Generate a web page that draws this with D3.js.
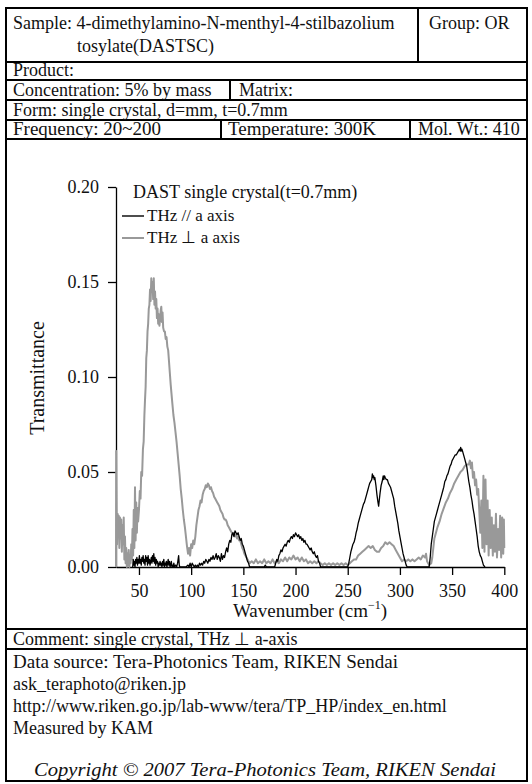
<!DOCTYPE html>
<html><head><meta charset="utf-8">
<script src="https://cdn.jsdelivr.net/npm/d3@7"></script>
<style>
html,body{margin:0;padding:0;background:#fff;}
svg{display:block;}
text{font-family:"Liberation Serif","Times New Roman",serif;fill:#111;}
</style></head><body>
<svg id="chart" width="532" height="784" font-family="Liberation Serif, serif"></svg>
<script>
// ---------- data ----------
const xDomain = [28, 400];
const yDomain = [0, 0.2];
const xTicks = [50, 100, 150, 200, 250, 300, 350, 400];
const yTicks = [0, 0.05, 0.10, 0.15, 0.20];
const chartTitle = "DAST single crystal(t=0.7mm)";
const seriesNames = ["THz // a axis", "THz \u22A5 a axis"];
const xLabel = "Wavenumber (cm";
const yLabel = "Transmittance";

// THz // a axis (black)
const parallelData = [
[44.0,0.000],[44.5,0.004],[45.0,0.001],[45.6,0.003],[46.2,0.000],[46.8,0.004],[47.4,0.002],[48.0,0.005],[48.6,0.001],[49.2,0.004],[49.8,0.002],[50.4,0.006],[51.0,0.002],[51.6,0.004],[52.2,0.001],[52.8,0.005],[53.4,0.003],[54.0,0.006],[54.6,0.002],[55.2,0.004],[55.8,0.001],[56.4,0.006],[57.0,0.003],[57.6,0.005],[58.2,0.001],[58.8,0.006],[59.4,0.002],[60.0,0.004],[60.6,0.001],[61.2,0.003],[61.8,0.005],[62.4,0.002],[63.0,0.006],[63.6,0.003],[64.2,0.007],[64.8,0.002],[65.4,0.005],[66.0,0.001],[66.6,0.004],[67.2,0.002],[67.8,0.003],[68.4,0.000],[69.0,0.002],[69.6,0.001],[70.2,0.003],[70.8,0.001],[71.4,0.002],[72.0,0.000],[72.6,0.003],[73.2,0.001],[73.8,0.004],[74.4,0.000],[75.0,0.002],[75.6,0.001],[76.2,0.003],[76.8,0.000],[77.4,0.002],[78.0,0.004],[78.6,0.001],[79.2,0.003],[79.8,0.000],[80.4,0.001],[81.0,0.003],[81.6,0.000],[82.2,0.001],[82.8,0.000],[83.4,0.002],[84.0,0.000],[85,0.001],[86,0.000],[87,0.002],[88,0.006],[88.6,0.001],[89.2,0.000],[95,0.000],[97,0.001],[98,0.000],[99,0.002],[100,0.000],[101,0.002],[102,0.001],[103,0.000],[104,0.001],[105,0.000],[106,0.001],[107,0.000],[108,0.002],[109,0.001],[110,0.002],[111,0.001],[112,0.003],[113,0.002],[114,0.004],[115,0.003],[116,0.002],[117,0.004],[118,0.003],[119,0.005],[120,0.004],[121,0.006],[122,0.004],[123,0.005],[124,0.007],[125,0.004],[126,0.006],[127,0.005],[128,0.003],[129,0.007],[130,0.004],[131,0.006],[132,0.005],[133,0.008],[134,0.010],[135,0.008],[136,0.012],[137,0.014],[138,0.013],[139,0.017],[140,0.018],[141,0.016],[142,0.019],[143,0.018],[144,0.017],[145,0.018],[146,0.016],[147,0.014],[148,0.015],[149,0.012],[150,0.011],[151,0.009],[152,0.007],[153,0.005],[154,0.003],[155,0.002],[156,0.000],[170,0.000],[171,0.001],[172,0.000],[180,0.000],[181,0.002],[182,0.004],[183,0.003],[184,0.006],[185,0.007],[186,0.009],[187,0.008],[188,0.010],[189,0.011],[190,0.012],[191,0.011],[192,0.013],[193,0.014],[194,0.013],[195,0.015],[196,0.016],[197,0.015],[198,0.017],[199,0.016],[200,0.018],[201,0.017],[202,0.016],[203,0.017],[204,0.015],[205,0.016],[206,0.014],[207,0.015],[208,0.013],[209,0.014],[210,0.012],[211,0.012],[212,0.011],[213,0.010],[214,0.009],[215,0.010],[216,0.008],[217,0.007],[218,0.008],[219,0.006],[220,0.005],[221,0.006],[222,0.003],[223,0.002],[224,0.000],[250,0.000],[251,0.002],[252,0.005],[253,0.008],[254,0.010],[255,0.012],[256,0.013],[257,0.015],[258,0.018],[259,0.020],[260,0.023],[261,0.025],[262,0.027],[263,0.029],[264,0.031],[265,0.033],[266,0.034],[267,0.036],[268,0.038],[269,0.040],[270,0.042],[271,0.044],[272,0.045],[273,0.046],[273.6,0.049],[274.2,0.047],[274.8,0.048],[275.4,0.046],[276,0.047],[277,0.043],[278,0.038],[279,0.034],[279.6,0.032],[280.2,0.035],[281,0.039],[282,0.043],[283,0.045],[284,0.048],[284.6,0.046],[285.2,0.048],[286,0.047],[287,0.046],[288,0.046],[289,0.044],[290,0.043],[291,0.042],[292,0.040],[293,0.038],[294,0.036],[295,0.032],[296,0.029],[297,0.026],[298,0.023],[299,0.019],[300,0.016],[301,0.013],[302,0.010],[303,0.007],[304,0.005],[305,0.003],[306,0.001],[307,0.000],[328,0.000],[329,0.005],[330,0.012],[331,0.016],[332,0.020],[333,0.024],[334,0.026],[335,0.028],[336,0.030],[337,0.032],[338,0.034],[339,0.036],[340,0.038],[341,0.040],[342,0.042],[343,0.045],[344,0.046],[345,0.048],[346,0.049],[347,0.051],[348,0.053],[349,0.054],[350,0.056],[351,0.057],[352,0.058],[353,0.059],[354,0.059],[355,0.060],[356,0.061],[357,0.062],[357.6,0.061],[358.2,0.063],[358.8,0.061],[359.4,0.062],[360,0.061],[361,0.059],[362,0.057],[363,0.055],[364,0.053],[365,0.049],[366,0.045],[367,0.042],[368,0.038],[369,0.035],[370,0.031],[371,0.028],[372,0.024],[373,0.020],[374,0.016],[375,0.011],[376,0.008],[377,0.006],[378,0.005],[379,0.003],[380,0.001],[381.5,0.000]
];

// THz ⊥ a axis (grey)
const perpData = [
[28.0,0.000],[28.2,0.061],[28.6,0.030],[29.0,0.012],[29.5,0.028],[30.0,0.018],[30.6,0.027],[31.2,0.010],[31.8,0.026],[32.4,0.015],[33.0,0.025],[33.6,0.008],[34.2,0.022],[34.8,0.012],[35.4,0.026],[36.0,0.004],[36.6,0.016],[37.2,0.002],[37.8,0.010],[38.4,0.000],[39.0,0.007],[39.6,0.001],[40.2,0.009],[40.8,0.000],[41.4,0.006],[42.0,0.002],[42.6,0.012],[43.2,0.004],[43.8,0.020],[44.4,0.006],[45.0,0.030],[45.6,0.010],[46.2,0.042],[46.8,0.014],[47.4,0.034],[48.0,0.018],[48.6,0.031],[49.2,0.024],[50.0,0.030],[50.8,0.040],[51.5,0.036],[52.2,0.050],[53.0,0.048],[53.8,0.062],[54.5,0.066],[55.2,0.080],[55.8,0.088],[56.4,0.095],[57.0,0.110],[57.6,0.114],[58.2,0.124],[58.8,0.128],[59.4,0.136],[60.0,0.138],[60.6,0.146],[61.2,0.140],[61.8,0.152],[62.4,0.146],[63.0,0.150],[63.6,0.141],[64.2,0.152],[64.8,0.138],[65.4,0.145],[66.0,0.136],[66.6,0.141],[67.2,0.131],[67.8,0.136],[68.4,0.128],[69.0,0.133],[69.6,0.127],[70.2,0.130],[70.8,0.135],[71.4,0.137],[72.0,0.129],[72.6,0.134],[73.2,0.126],[74.0,0.124],[74.8,0.124],[75.6,0.120],[76.4,0.121],[77.2,0.116],[78.0,0.114],[78.8,0.108],[79.6,0.102],[80.4,0.096],[81.2,0.091],[82.0,0.086],[83.0,0.080],[84.0,0.076],[85.0,0.071],[86.0,0.066],[87.0,0.060],[88.0,0.054],[89.0,0.048],[90.0,0.041],[91.0,0.036],[92.0,0.030],[93.0,0.025],[94.0,0.021],[95.0,0.016],[96.0,0.011],[97.0,0.007],[98.0,0.010],[99.0,0.006],[100.0,0.012],[101.0,0.010],[102.0,0.014],[103.0,0.012],[104.0,0.016],[105.0,0.022],[106.0,0.026],[107.0,0.030],[108.0,0.032],[109.0,0.035],[110.0,0.034],[111.0,0.038],[112.0,0.040],[113.0,0.041],[114.0,0.043],[115.0,0.042],[116.0,0.044],[117.0,0.043],[118.0,0.041],[119.0,0.042],[120.0,0.040],[121.0,0.039],[122.0,0.037],[123.0,0.036],[124.0,0.035],[125.0,0.034],[126.0,0.033],[127.0,0.032],[128.0,0.030],[129.0,0.029],[130.0,0.028],[131.0,0.026],[132.0,0.025],[133.0,0.025],[134.0,0.024],[135.0,0.022],[136.0,0.021],[137.0,0.020],[138.0,0.019],[139.0,0.018],[140.0,0.017],[141.0,0.018],[142.0,0.016],[143.0,0.017],[144.0,0.015],[145.0,0.016],[146.0,0.014],[147.0,0.014],[148.0,0.012],[149.0,0.010],[150.0,0.009],[151.0,0.007],[152.0,0.006],[153.0,0.005],[154.0,0.004],[155.0,0.003],[156.0,0.002],[158.0,0.003],[160.0,0.002],[162,0.004],[164,0.002],[166,0.003],[168,0.002],[170,0.004],[172,0.002],[174,0.003],[176,0.002],[178,0.004],[180,0.002],[182,0.003],[184,0.002],[186,0.004],[188,0.003],[190,0.005],[192,0.003],[194,0.005],[196,0.004],[198,0.006],[200,0.004],[202,0.005],[204,0.003],[206,0.005],[208,0.003],[210,0.004],[212,0.002],[214,0.003],[216,0.002],[218,0.003],[220,0.002],[222,0.003],[224,0.002],[226,0.001],[228,0.002],[230,0.001],[232,0.002],[234,0.001],[236,0.002],[238,0.001],[240,0.002],[242,0.001],[244,0.002],[246,0.001],[248,0.002],[250,0.001],[252,0.002],[254,0.003],[256,0.004],[258,0.004],[260,0.006],[262,0.007],[264,0.008],[266,0.009],[268,0.010],[270,0.011],[272,0.010],[274,0.011],[276,0.009],[278,0.008],[280,0.008],[282,0.010],[284,0.011],[286,0.013],[288,0.012],[290,0.013],[292,0.012],[294,0.011],[296,0.009],[298,0.007],[300,0.005],[302,0.003],[304,0.004],[306,0.003],[308,0.004],[310,0.003],[312,0.004],[314,0.003],[316,0.004],[318,0.005],[320,0.004],[322,0.006],[324,0.005],[325,0.007],[326,0.003],[328,0.001],[330,0.002],[331,0.005],[332,0.010],[333,0.015],[334,0.017],[336,0.021],[338,0.024],[340,0.028],[342,0.031],[344,0.034],[346,0.036],[348,0.039],[350,0.041],[352,0.044],[354,0.046],[356,0.048],[358,0.050],[360,0.051],[362,0.053],[364,0.054],[366,0.054],[367,0.056],[368,0.052],[369,0.055],[370,0.047],[371,0.050],[372,0.043],[373,0.046],[374,0.038],[375,0.041],[376,0.030],[377,0.018],[378,0.035],[379,0.010],[380,0.048],[381,0.008],[382,0.046],[383,0.012],[384,0.035],[385,0.006],[386,0.030],[387,0.010],[388,0.026],[389,0.006],[390,0.022],[391,0.008],[392,0.028],[393,0.005],[394,0.020],[395,0.009],[396,0.027],[397,0.005],[398,0.026],[399,0.007],[399.6,0.025],[400,0.010]
];

// header / footer texts
const sampleLines = ["Sample: 4-dimethylamino-N-menthyl-4-stilbazolium", "tosylate(DASTSC)"];
const groupText = "Group: OR";
const productText = "Product:";
const concText = "Concentration: 5% by mass";
const matrixText = "Matrix:";
const formText = "Form: single crystal, d=mm, t=0.7mm";
const freqText = "Frequency: 20~200";
const tempText = "Temperature: 300K";
const molText = "Mol. Wt.: 410";
const commentText = "Comment: single crystal, THz \u22A5 a-axis";
const sourceLines = ["Data source: Tera-Photonics Team, RIKEN Sendai", "ask_teraphoto@riken.jp", "http://www.riken.go.jp/lab-www/tera/TP_HP/index_en.html", "Measured by KAM"];
const copyrightText = "Copyright \u00A9 2007 Tera-Photonics Team, RIKEN Sendai";

// ---------- drawing ----------
const svg = d3.select("#chart");
const L = 6, R = 527, T = 8, B = 781;
const FS = 18;

// frame lines
const frame = svg.append("g").attr("stroke", "#000").attr("fill", "none");
frame.append("rect").attr("x", L).attr("y", T).attr("width", R - L).attr("height", B - T).attr("stroke-width", 2);
const hLines = [62, 80, 100, 120, 139, 629, 649];
hLines.forEach(yv => frame.append("line").attr("x1", L).attr("x2", R).attr("y1", yv).attr("y2", yv).attr("stroke-width", 2));
const vLines = [[418, T, 62], [230, 80, 100], [221, 120, 139], [410, 120, 139]];
vLines.forEach(v => frame.append("line").attr("x1", v[0]).attr("x2", v[0]).attr("y1", v[1]).attr("y2", v[2]).attr("stroke-width", 2));

function txt(s, xp, yp, opts = {}) {
  const t = svg.append("text").attr("x", xp).attr("y", yp)
    .attr("font-family", "Liberation Serif, serif").attr("font-size", opts.size || FS).text(s);
  if (opts.anchor) t.attr("text-anchor", opts.anchor);
  if (opts.italic) t.attr("font-style", "italic");
  return t;
}
const TX = 13;
txt(sampleLines[0], TX, 29);
txt(sampleLines[1], 77, 52);
txt(groupText, 429, 29);
txt(productText, TX, 76);
txt(concText, TX, 96);
txt(matrixText, 239, 96);
txt(formText, TX, 116);
txt(freqText, TX, 135, {size: 19});
txt(tempText, 228, 135, {size: 19});
txt(molText, 418, 135);
txt(commentText, TX, 645);
sourceLines.forEach((s, i) => txt(s, TX, 668 + i * 22, {size: i === 0 ? 19 : 18}));
txt(copyrightText, 265, 776, {anchor: "middle", italic: true, size: 19})
  .attr("textLength", 462).attr("lengthAdjust", "spacingAndGlyphs");

// scales
const x = d3.scaleLinear().domain(xDomain).range([116, 504.3]);
const y = d3.scaleLinear().domain(yDomain).range([567, 187]);

// axes
const gx = svg.append("g").attr("transform", "translate(0,567)")
  .call(d3.axisBottom(x).tickValues(xTicks).tickSize(8).tickSizeOuter(0).tickPadding(9));
const gy = svg.append("g").attr("transform", "translate(116,0)")
  .call(d3.axisLeft(y).tickValues(yTicks).tickFormat(d3.format(".2f")).tickSize(8).tickSizeOuter(0).tickPadding(9));
[gx, gy].forEach(g => {
  g.attr("font-family", "Liberation Serif, serif").attr("font-size", 18);
  g.selectAll("text").attr("fill", "#111");
  g.selectAll("path,line").attr("stroke", "#000").attr("stroke-width", 1.3);
});

// lines
const line = d3.line().x(d => x(d[0])).y(d => y(d[1]));
svg.append("path").datum(perpData).attr("d", line).attr("fill", "none").attr("stroke", "#999").attr("stroke-width", 2).attr("stroke-linejoin", "round");
svg.append("path").datum(parallelData).attr("d", line).attr("fill", "none").attr("stroke", "#000").attr("stroke-width", 1.3).attr("stroke-linejoin", "round");

// title and legend
txt(chartTitle, 133, 198, {size: 18});
const legColors = ["#000", "#999"];
seriesNames.forEach((s, i) => {
  const ly = 216 + i * 22;
  svg.append("line").attr("x1", 122).attr("x2", 144).attr("y1", ly).attr("y2", ly)
    .attr("stroke", legColors[i]).attr("stroke-width", i ? 2 : 1.4);
  txt(s, 147, ly + 5, {size: 17});
});

// axis titles
const xl = txt(xLabel, 310, 617, {anchor: "middle", size: 19});
xl.append("tspan").attr("font-size", 12).attr("dy", -8).text("\u22121");
xl.append("tspan").attr("dy", 8).text(")");
txt(yLabel, 0, 0, {anchor: "middle", size: 20}).attr("transform", "translate(44,378) rotate(-90)");
</script>
</body></html>
